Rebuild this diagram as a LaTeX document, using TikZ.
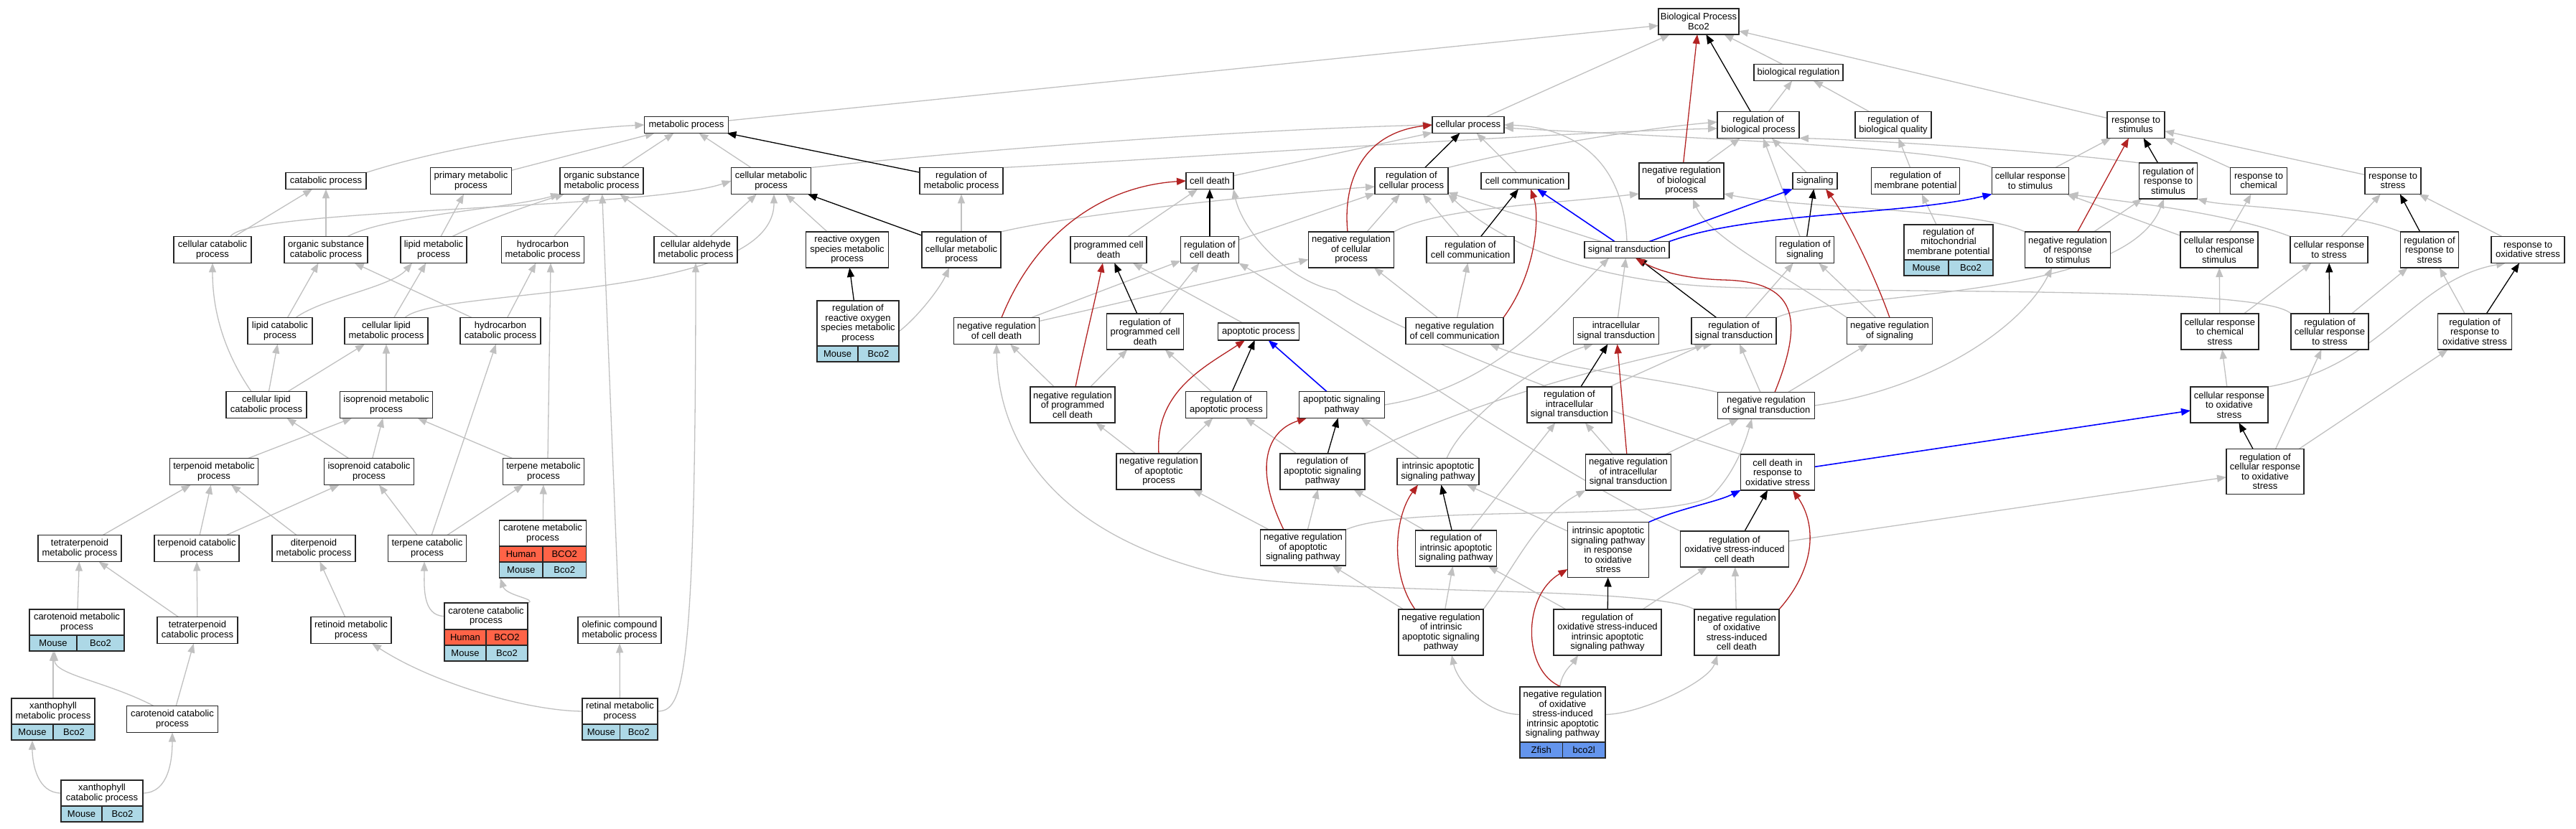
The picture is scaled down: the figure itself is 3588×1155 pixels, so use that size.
\documentclass[tikz,border=0pt]{standalone}
\usepackage{fontspec}
\setmainfont{Liberation Sans}
\usetikzlibrary{arrows.meta,fit}
\pgfdeclarelayer{edges}
\pgfsetlayers{edges,main}
\newcommand\gofnt{\fontsize{13pt}{13.5pt}\selectfont}
\definecolor{mouseblue}{HTML}{ADD8E6}
\definecolor{humanred}{HTML}{FF6347}
\definecolor{zfishblue}{HTML}{6495ED}
\definecolor{edgegray}{HTML}{C0C0C0}
\definecolor{negred}{HTML}{B22222}
\definecolor{partblue}{HTML}{0000FF}
\tikzset{
  gobox/.style={draw=black!85, line width=1.3pt, fill=white, align=center, inner xsep=2pt, inner ysep=0pt, outer sep=0pt, font=\gofnt},
  gocell/.style={draw=black!85, line width=1.3pt, inner sep=0pt, outer sep=0pt, minimum height=22pt, font=\gofnt},
  gE/.style={draw=edgegray, line width=1.3pt, -{Triangle[length=13pt,width=10pt]}},
  kE/.style={draw=black, line width=1.3pt, -{Triangle[length=13pt,width=10pt]}},
  rE/.style={draw=negred, line width=1.3pt, -{Triangle[length=13pt,width=10pt]}},
  bE/.style={draw=partblue, line width=1.6pt, -{Triangle[length=13pt,width=10pt]}}
}
\newcommand\gonode[6]{\node[gobox,minimum width=#4pt,minimum height=#5pt] (#1) at (#2,#3) {#6};}
\newcommand\gotop[6]{\node[gobox,minimum width=#4pt,minimum height=#5pt,anchor=north] (#1T) at (#2,#3) {#6};}
\newcommand\gorow[6]{\node[gocell,fill=#4,minimum width=#3pt,anchor=north west] (#1a) at (#2.south west) {#5};
  \node[gocell,fill=#4,minimum width=#3pt,anchor=north west] (#1b) at (#1a.north east) {#6};}
\newcommand\gofit[2]{\node[fit=(#1T)(#2),inner sep=0pt,draw=black!85,line width=1.3pt] (#1) {};}
\begin{document}
\begin{tikzpicture}[x=1pt,y=-1pt]
\useasboundingbox (0,0) rectangle (3588,1155);
% ---------- level 1-3
\gonode{bp}{2366}{30}{112}{36}{Biological Process\\Bco2}
\gonode{breg}{2505}{101}{124}{23}{biological regulation}
\gonode{met}{956}{174}{117}{23}{metabolic process}
\gonode{cp}{2045}{174}{100}{23}{cellular process}
\gonode{rbp}{2449}{174}{114}{37}{regulation of\\biological process}
\gonode{rbq}{2637}{174}{106}{37}{regulation of\\biological quality}
\gonode{rsti}{2975}{174}{80}{37}{response to\\stimulus}
% ---------- level 4
\gonode{cat}{454}{252}{112}{23}{catabolic process}
\gonode{pmp}{656}{252}{113}{37}{primary metabolic\\process}
\gonode{osmp}{838}{252}{116}{37}{organic substance\\metabolic process}
\gonode{cmet}{1074}{252}{111}{37}{cellular metabolic\\process}
\gonode{rmet}{1339}{252}{116}{37}{regulation of\\metabolic process}
\gonode{cd}{1685}{252}{66}{23}{cell death}
\gonode{rcp}{1966}{252}{102}{37}{regulation of\\cellular process}
\gonode{cc}{2124}{252}{122}{23}{cell communication}
\gonode{nrbp}{2342}{252}{118}{50}{negative regulation\\of biological\\process}
\gonode{sig}{2528}{252}{62}{23}{signaling}
\gonode{rmemp}{2668}{252}{123}{37}{regulation of\\membrane potential}
\gonode{crsti}{2828}{252}{107}{37}{cellular response\\to stimulus}
\gonode{rrsti}{3020}{252}{81}{50}{regulation of\\response to\\stimulus}
\gonode{rchem}{3146}{252}{79}{37}{response to\\chemical}
\gonode{rstr}{3333}{252}{78}{37}{response to\\stress}
% ---------- level 5
\gonode{celcat}{296}{348}{108}{37}{cellular catabolic\\process}
\gonode{oscat}{454}{348}{116}{37}{organic substance\\catabolic process}
\gonode{lmp}{604}{348}{92}{37}{lipid metabolic\\process}
\gonode{hmp}{756}{348}{115}{37}{hydrocarbon\\metabolic process}
\gonode{camp}{969}{348}{116}{37}{cellular aldehyde\\metabolic process}
\gonode{ros}{1180}{348}{115}{50}{reactive oxygen\\species metabolic\\process}
\gonode{rcmet}{1339}{348}{110}{50}{regulation of\\cellular metabolic\\process}
\gonode{pcd}{1544}{348}{106}{37}{programmed cell\\death}
\gonode{rcd}{1685}{348}{81}{37}{regulation of\\cell death}
\gonode{nrcp}{1882}{348}{119}{50}{negative regulation\\of cellular\\process}
\gonode{rcc}{2048}{348}{122}{37}{regulation of\\cell communication}
\gonode{st}{2266}{348}{118}{23}{signal transduction}
\gonode{rsig}{2514}{348}{81}{37}{regulation of\\signaling}
\gotop{rmmp}{2714}{313}{124}{49}{regulation of\\mitochondrial\\membrane potential}
\gorow{rmmpM}{rmmpT}{62}{mouseblue}{Mouse}{Bco2}
\gofit{rmmp}{rmmpMb}
\gonode{nrrsti}{2880}{348}{119}{50}{negative regulation\\of response\\to stimulus}
\gonode{crchem}{3091}{348}{108}{50}{cellular response\\to chemical\\stimulus}
\gonode{crstr}{3244}{348}{108}{37}{cellular response\\to stress}
\gonode{rrstr}{3384}{348}{81}{50}{regulation of\\response to\\stress}
\gonode{rox}{3521}{348}{102}{37}{response to\\oxidative stress}
% ---------- level 6
\gonode{lcat}{390}{461}{90}{37}{lipid catabolic\\process}
\gonode{clmp}{538}{461}{116}{37}{cellular lipid\\metabolic process}
\gonode{hcat}{697}{461}{112}{37}{hydrocarbon\\catabolic process}
\gotop{rros}{1195}{419}{114}{63}{regulation of\\reactive oxygen\\species metabolic\\process}
\gorow{rrosM}{rrosT}{57}{mouseblue}{Mouse}{Bco2}
\gofit{rros}{rrosMb}
\gonode{nrcd}{1388}{461}{119}{37}{negative regulation\\of cell death}
\gonode{rpcd}{1595}{462}{107}{50}{regulation of\\programmed cell\\death}
\gonode{ap}{1753}{462}{113}{24}{apoptotic process}
\gonode{nrcc}{2026}{461}{136}{37}{negative regulation\\of cell communication}
\gonode{ist}{2251}{461}{119}{37}{intracellular\\signal transduction}
\gonode{rst}{2415}{461}{118}{37}{regulation of\\signal transduction}
\gonode{nrsig}{2632}{461}{119}{37}{negative regulation\\of signaling}
\gonode{crcs}{3092}{462}{108}{50}{cellular response\\to chemical\\stress}
\gonode{rcrs}{3245}{462}{108}{50}{regulation of\\cellular response\\to stress}
\gonode{rrox}{3447}{462}{103}{50}{regulation of\\response to\\oxidative stress}
% ---------- level 7
\gonode{clcat}{371}{564}{112}{37}{cellular lipid\\catabolic process}
\gonode{ipmp}{538}{564}{129}{37}{isoprenoid metabolic\\process}
\gonode{nrpcd}{1494}{564}{118}{50}{negative regulation\\of programmed\\cell death}
\gonode{rap}{1708}{564}{113}{37}{regulation of\\apoptotic process}
\gonode{asp}{1869}{564}{119}{37}{apoptotic signaling\\pathway}
\gonode{rist}{2186}{564}{118}{50}{regulation of\\intracellular\\signal transduction}
\gonode{nrst}{2460}{565}{135}{37}{negative regulation\\of signal transduction}
\gonode{crox}{3105}{564}{108}{50}{cellular response\\to oxidative\\stress}
% ---------- level 8
\gonode{tmp}{298}{657}{123}{37}{terpenoid metabolic\\process}
\gonode{ipcat}{514}{657}{125}{37}{isoprenoid catabolic\\process}
\gonode{tpmp}{757}{657}{113}{37}{terpene metabolic\\process}
\gonode{nrap}{1614}{657}{118}{50}{negative regulation\\of apoptotic\\process}
\gonode{rasp}{1842}{657}{118}{50}{regulation of\\apoptotic signaling\\pathway}
\gonode{iasp}{2003}{657}{114}{37}{intrinsic apoptotic\\signaling pathway}
\gonode{nrist}{2268}{658}{119}{50}{negative regulation\\of intracellular\\signal transduction}
\gonode{cdox}{2476}{658}{103}{50}{cell death in\\response to\\oxidative stress}
\gonode{rcrox}{3155}{657}{108}{63}{regulation of\\cellular response\\to oxidative\\stress}
% ---------- level 9
\gonode{ttmp}{111}{764}{116}{37}{tetraterpenoid\\metabolic process}
\gonode{tcat}{274}{764}{118}{37}{terpenoid catabolic\\process}
\gonode{dtmp}{437}{764}{116}{37}{diterpenoid\\metabolic process}
\gonode{tpcat}{595}{764}{109}{37}{terpene catabolic\\process}
\gotop{cmp}{756}{725}{121}{36}{carotene metabolic\\process}
\gorow{cmpH}{cmpT}{60.5}{humanred}{Human}{BCO2}
\gorow{cmpM}{cmpHa}{60.5}{mouseblue}{Mouse}{Bco2}
\gofit{cmp}{cmpMb}
\gonode{nrasp}{1815}{763}{119}{50}{negative regulation\\of apoptotic\\signaling pathway}
\gonode{riasp}{2028}{764}{113}{50}{regulation of\\intrinsic apoptotic\\signaling pathway}
\gonode{iaspox}{2240}{766}{113}{77}{intrinsic apoptotic\\signaling pathway\\in response\\to oxidative\\stress}
\gonode{rosicd}{2416}{765}{151}{50}{regulation of\\oxidative stress-induced\\cell death}
% ---------- level 10
\gotop{crmp}{107}{849}{132}{36}{carotenoid metabolic\\process}
\gorow{crmpM}{crmpT}{66}{mouseblue}{Mouse}{Bco2}
\gofit{crmp}{crmpMb}
\gonode{ttcat}{275}{878}{112}{37}{tetraterpenoid\\catabolic process}
\gonode{rtmp}{489}{878}{112}{37}{retinoid metabolic\\process}
\gotop{ccp}{677}{840}{116}{37}{carotene catabolic\\process}
\gorow{ccpH}{ccpT}{58}{humanred}{Human}{BCO2}
\gorow{ccpM}{ccpHa}{58}{mouseblue}{Mouse}{Bco2}
\gofit{ccp}{ccpMb}
\gonode{ocmp}{863}{878}{116}{37}{olefinic compound\\metabolic process}
\gonode{nriasp}{2007}{881}{118}{64}{negative regulation\\of intrinsic\\apoptotic signaling\\pathway}
\gonode{rosiasp}{2239}{881}{150}{64}{regulation of\\oxidative stress-induced\\intrinsic apoptotic\\signaling pathway}
\gonode{nrosicd}{2419}{881}{118}{64}{negative regulation\\of oxidative\\stress-induced\\cell death}
% ---------- level 11-12
\gotop{xmp}{74}{973}{116}{36}{xanthophyll\\metabolic process}
\gorow{xmpM}{xmpT}{58}{mouseblue}{Mouse}{Bco2}
\gofit{xmp}{xmpMb}
\gonode{crcat}{240}{1002}{127}{37}{carotenoid catabolic\\process}
\gotop{rmp}{863.5}{973}{105}{36}{retinal metabolic\\process}
\gorow{rmpM}{rmpT}{52.5}{mouseblue}{Mouse}{Bco2}
\gofit{rmp}{rmpMb}
\gotop{zf}{2176.5}{957}{119}{77}{negative regulation\\of oxidative\\stress-induced\\intrinsic apoptotic\\signaling pathway}
\gorow{zfZ}{zfT}{59.5}{zfishblue}{Zfish}{bco2l}
\gofit{zf}{zfZb}
\gotop{xcp}{142}{1087}{114}{36}{xanthophyll\\catabolic process}
\gorow{xcpM}{xcpT}{57}{mouseblue}{Mouse}{Bco2}
\gofit{xcp}{xcpMb}

\begin{pgfonlayer}{edges}
% ===== gray: metabolic branch
\draw[gE] (met) -- (bp);
\draw[gE] (cp) -- (bp);
\draw[gE] (breg) -- (bp);
\draw[gE] (rsti) -- (bp);
\draw[gE] (rbp) -- (breg);
\draw[gE] (rbq) -- (breg);
\draw[gE] (cat.north east) .. controls (620,205) and (780,180) .. (met.west);
\draw[gE] (pmp) -- (met);
\draw[gE] (osmp) -- (met);
\draw[gE] (cmet) -- (met);
\draw[gE] (celcat) -- (cat);
\draw[gE] ([xshift=25pt]celcat.north) .. controls (345,290) and (900,292) .. (cmet.west);
\draw[gE] (oscat) -- (cat);
\draw[gE] ([xshift=30pt]oscat.north) .. controls (540,300) and (700,292) .. (osmp.south west);
\draw[gE] (lmp) -- (pmp);
\draw[gE] ([xshift=26pt]lmp.north) .. controls (680,305) and (740,285) .. ([xshift=6pt]osmp.south west);
\draw[gE] (hmp) -- (osmp);
\draw[gE] (camp) -- (osmp);
\draw[gE] (camp) -- (cmet);
\draw[gE] (ros) -- (cmet);
\draw[gE] (rcmet) -- (rmet);
\draw[gE] (rros.east) .. controls (1280,440) and (1310,400) .. ([xshift=-17pt]rcmet.south);
\draw[gE] (lcat) -- (oscat);
\draw[gE] ([xshift=22pt]lcat.north) .. controls (450,415) and (545,400) .. ([xshift=-30pt]lmp.south);
\draw[gE] (clmp) -- (lmp);
\draw[gE] ([xshift=26pt]clmp.north) .. controls (610,400) and (1078,420) .. ([xshift=4pt]cmet.south);
\draw[gE] (hcat) -- (oscat);
\draw[gE] (hcat) -- (hmp);
\draw[gE] ([xshift=-21pt]clcat.north) .. controls (305,480) and (296,420) .. (celcat.south);
\draw[gE] (clcat) -- (lcat);
\draw[gE] (clcat) -- (clmp);
\draw[gE] (ipmp) -- (clmp);
\draw[gE] (tmp) -- (ipmp);
\draw[gE] (ipcat) -- (ipmp);
\draw[gE] (ipcat) -- (clcat);
\draw[gE] (tpmp) -- (ipmp);
\draw[gE] ([xshift=6pt]tpmp.north) -- ([xshift=11pt]hmp.south);
\draw[gE] (ttmp) -- (tmp);
\draw[gE] (tcat) -- (tmp);
\draw[gE] (tcat) -- (ipcat);
\draw[gE] (dtmp) -- (tmp);
\draw[gE] (tpcat) -- (ipcat);
\draw[gE] (tpcat) -- (hcat);
\draw[gE] (tpcat) -- (tpmp);
\draw[gE] (cmp) -- (tpmp);
\draw[gE] (crmp) -- (ttmp);
\draw[gE] (ttcat) -- (ttmp);
\draw[gE] (ttcat) -- (tcat);
\draw[gE] (rtmp) -- (dtmp);
\draw[gE] (ccpT.west) to[out=180,in=-90] ([xshift=-4pt]tpcat.south);
\draw[gE] (ccpT.north east) .. controls (750,835) and (705,830) .. ([xshift=2pt]cmp.south west);
\draw[gE] (ocmp) -- (osmp);
\draw[gE] (xmp.north) -- (xmp.north |- crmp.south);
\draw[gE] ([xshift=-26pt]crcat.north) .. controls (150,950) and (76,940) .. ([xshift=-31pt]crmp.south);
\draw[gE] (crcat) -- (ttcat);
\draw[gE] (xcpT.west) to[out=180,in=-90] ([xshift=-29pt]xmp.south);
\draw[gE] (xcpT.east) to[out=0,in=-90] (crcat.south);
\draw[gE] (rmpT.west) .. controls (730,990) and (600,950) .. ([xshift=29pt]rtmp.south);
\draw[gE] (rmp) -- (ocmp);
\draw[gE] (rmpT.east) .. controls (950,990) and (969,960) .. (camp.south);
% ===== gray: cell death / apoptosis
\draw[gE] (cmet.north east) .. controls (1400,205) and (1750,180) .. (cp.west);
\draw[gE] (rmet.north east) .. controls (1650,220) and (2150,185) .. ([yshift=-5pt]rbp.west);
\draw[gE] (cd) -- (cp);
\draw[gE] (rcmet.north east) .. controls (1500,298) and (1750,272) .. ([yshift=-8pt]rcp.west);
\draw[gE] (rcd) -- (rcp);
\draw[gE] (pcd) -- (cd);
\draw[gE] (ap) -- (pcd);
\draw[gE] (nrcd) -- (rcd);
\draw[gE] (nrcd) -- (nrcp);
\draw[gE] (cdox.north west) .. controls (2200,560) and (1960,470) .. (1860,405) .. controls (1790,390) and (1730,320) .. (cd.south east);
\draw[gE] (rpcd) -- (rcd);
\draw[gE] (nrpcd) -- (nrcd);
\draw[gE] (nrpcd) -- (rpcd);
\draw[gE] (rap) -- (rpcd);
\draw[gE] (nrap) -- (nrpcd);
\draw[gE] (nrap) -- (rap);
\draw[gE] (asp.east) .. controls (2080,540) and (2160,440) .. ([xshift=-25pt]st.south);
\draw[gE] (rasp) -- (rap);
\draw[gE] (rasp.north east) .. controls (2050,560) and (2250,505) .. ([xshift=-30pt]rst.south);
\draw[gE] (nrasp) -- (rasp);
\draw[gE] (nrasp) -- (nrap);
\draw[gE] (nrasp.north east) .. controls (1960,700) and (2330,730) .. (2385,690) .. controls (2415,660) and (2430,620) .. ([xshift=-20pt]nrst.south);
\draw[gE] (iasp) -- (asp);
\draw[gE] ([xshift=12pt]iasp.north) .. controls (2040,580) and (2150,500) .. ([xshift=-32pt]ist.south);
\draw[gE] (riasp) -- (rasp);
\draw[gE] (riasp) -- (rist);
\draw[gE] (nriasp) -- (riasp);
\draw[gE] (nriasp) -- (nrasp);
\draw[gE] (nriasp.north east) .. controls (2110,790) and (2140,720) .. (nrist.south west);
\draw[gE] (iaspox) -- (iasp);
\draw[gE] (rosiasp) -- (riasp);
\draw[gE] (rosiasp) -- (rosicd);
\draw[gE] ([xshift=-4pt]zfT.north) .. controls (2176,935) and (2190,925) .. ([xshift=-41pt]rosiasp.south);
\draw[gE] (zfT.west) .. controls (2070,995) and (2030,950) .. ([xshift=15pt]nriasp.south);
\draw[gE] (zfT.east) .. controls (2285,995) and (2380,950) .. ([xshift=-27pt]nrosicd.south);
\draw[gE] (rosicd.north west) .. controls (2150,650) and (1850,440) .. (rcd.south east);
\draw[gE] (rosicd) -- (rcrox);
\draw[gE] (nrosicd) -- (rosicd);
\draw[gE] (nrosicd.north west) .. controls (2300,815) and (1850,830) .. (1700,800) .. controls (1450,740) and (1390,600) .. (nrcd.south);
% ===== gray: signalling / response
\draw[gE] (cc) -- (cp);
\draw[gE] (rcc) -- (rcp);
\draw[gE] (nrcc) -- (rcc);
\draw[gE] (nrcc) -- (nrcp);
\draw[gE] (st.north) .. controls (2262,230) and (2200,178) .. (cp.east);
\draw[gE] (st) -- (rcp);
\draw[gE] (ist) -- (st);
\draw[gE] (rst) -- (rsig);
\draw[gE] (rst.north east) .. controls (2560,405) and (2960,420) .. ([xshift=-6pt]rrsti.south);
\draw[gE] (nrst) -- (rst);
\draw[gE] (nrst) -- (nrsig);
\draw[gE] (nrst.east) .. controls (2700,540) and (2820,450) .. ([xshift=-22pt]nrrsti.south);
\draw[gE] (nrst.north west) .. controls (2300,525) and (2150,510) .. ([xshift=49pt]nrcc.south);
\draw[gE] (nrist) -- (rist);
\draw[gE] (nrist) -- (nrst);
\draw[gE] (rist) -- (rst);
\draw[gE] (rsig) -- (rbp);
\draw[gE] (sig) -- (rbp);
\draw[gE] (nrsig) -- (rsig);
\draw[gE] (nrsig.north west) .. controls (2480,380) and (2380,330) .. ([xshift=16pt]nrbp.south);
\draw[gE] (nrbp) -- (rbp);
\draw[gE] (rcp.north east) .. controls (2150,200) and (2300,178) .. ([yshift=4pt]rbp.west);
\draw[gE] (nrcp) -- (rcp);
\draw[gE] (nrcp.north east) .. controls (2000,290) and (2150,285) .. ([yshift=-18pt]nrbp.west);
\draw[gE] (rmemp) -- (rbq);
\draw[gE] (rmmp) -- (rmemp);
\draw[gE] (crsti.north west) .. controls (2720,205) and (2300,190) .. ([yshift=-4pt]cp.east);
\draw[gE] (crsti) -- (rsti);
\draw[gE] (rrsti.north west) .. controls (2850,210) and (2600,195) .. (rbp.south east);
\draw[gE] (nrrsti) -- (rrsti);
\draw[gE] (nrrsti.north west) .. controls (2750,290) and (2500,290) .. ([yshift=-18pt]nrbp.east);
\draw[gE] (rchem) -- (rsti);
\draw[gE] (rstr) -- (rsti);
\draw[gE] (crchem) -- (rchem);
\draw[gE] (crchem) -- (crsti);
\draw[gE] (crstr) -- (rstr);
\draw[gE] (crstr.north west) .. controls (3100,295) and (2950,280) .. (crsti.south east);
\draw[gE] (rrstr.north west) .. controls (3260,290) and (3100,288) .. (rrsti.south east);
\draw[gE] (rox) -- (rstr);
\draw[gE] (crcs) -- (crchem);
\draw[gE] (crcs) -- (crstr);
\draw[gE] (rcrs) -- (rrstr);
\draw[gE] (rcrs.north west) .. controls (3150,398) and (2650,410) .. (2400,400) .. controls (2200,392) and (2080,330) .. (rcp.south east);
\draw[gE] (rrox) -- (rrstr);
\draw[gE] (crox) -- (crcs);
\draw[gE] (crox.north east) .. controls (3320,510) and (3360,390) .. ([xshift=-31pt]rox.south);
\draw[gE] (rcrox) -- (rcrs);
\draw[gE] (rcrox) -- (rrox);
% ===== black: regulates
\draw[kE] (rbp) -- (bp);
\draw[kE] (rmet) -- (met);
\draw[kE] (rcmet) -- (cmet);
\draw[kE] (rros) -- (ros);
\draw[kE] (rcp) -- (cp);
\draw[kE] (rcc) -- (cc);
\draw[kE] (rcd) -- (cd);
\draw[kE] (rpcd) -- (pcd);
\draw[kE] (rap) -- (ap);
\draw[kE] (rasp) -- (asp);
\draw[kE] (riasp) -- (iasp);
\draw[kE] (rist) -- (ist);
\draw[kE] (rst) -- (st);
\draw[kE] (rsig) -- (sig);
\draw[kE] (rrsti) -- (rsti);
\draw[kE] (rrstr) -- (rstr);
\draw[kE] (rcrs) -- (crstr);
\draw[kE] (rrox) -- (rox);
\draw[kE] (rcrox) -- (crox);
\draw[kE] (rosicd) -- (cdox);
\draw[kE] (rosiasp) -- (iaspox);
% ===== red: negatively regulates
\draw[rE] (nrbp) -- (bp);
\draw[rE] ([xshift=-5pt]nrcp.north) .. controls (1870,250) and (1900,185) .. (cp.west);
\draw[rE] ([xshift=7pt]nrcd.north) .. controls (1440,330) and (1530,260) .. (cd.west);
\draw[rE] ([xshift=4pt]nrpcd.north) .. controls (1510,480) and (1525,420) .. ([xshift=-8pt]pcd.south);
\draw[rE] (nrap.north) .. controls (1608,545) and (1680,510) .. ([xshift=-19pt]ap.south);
\draw[rE] ([xshift=-27pt]nrasp.north) .. controls (1745,650) and (1765,600) .. ([xshift=-49pt]asp.south);
\draw[rE] ([xshift=-36pt]nriasp.north) .. controls (1936,800) and (1942,720) .. ([xshift=-28pt]iasp.south);
\draw[rE] (nrist) -- (ist);
\draw[rE] (nrcc.north east) .. controls (2140,380) and (2145,300) .. ([xshift=8pt]cc.south);
\draw[rE] ([xshift=12pt]nrst.north) .. controls (2515,440) and (2500,392) .. (2400,390) .. controls (2340,388) and (2305,375) .. ([xshift=12pt]st.south);
\draw[rE] (nrsig.north) .. controls (2610,380) and (2570,300) .. ([xshift=15pt]sig.south);
\draw[rE] (nrrsti) -- (rsti);
\draw[rE] (nrosicd.north east) .. controls (2530,790) and (2530,730) .. ([xshift=21pt]cdox.south);
\draw[rE] ([xshift=-2pt]zfT.north) .. controls (2120,935) and (2120,830) .. ([yshift=-27pt]iaspox.west);
% ===== blue: part of
\draw[bE] (asp) -- (ap);
\draw[bE] (st) -- (cc);
\draw[bE] (st) -- (sig);
\draw[bE] (st.north east) .. controls (2440,295) and (2650,300) .. (crsti.south west);
\draw[bE] (iaspox.north east) .. controls (2340,708) and (2390,700) .. (cdox.south west);
\draw[bE] (cdox) -- (crox);
\end{pgfonlayer}
\end{tikzpicture}
\end{document}
